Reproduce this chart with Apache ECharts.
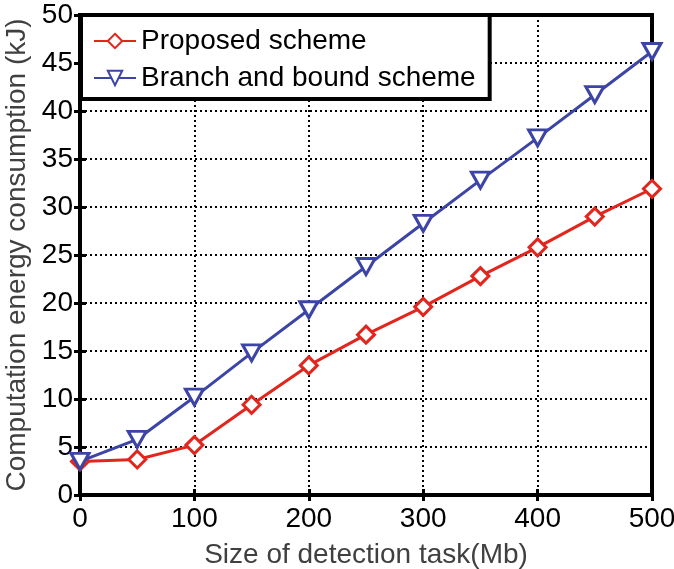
<!DOCTYPE html>
<html><head><meta charset="utf-8">
<script src="https://cdn.jsdelivr.net/npm/echarts@6/dist/echarts.min.js"></script>
<style>html,body{margin:0;padding:0;background:#fff}#c{width:674px;height:569px}</style>
</head><body><div id="c"></div>
<script>
const taskSize = [0, 50, 100, 150, 200, 250, 300, 350, 400, 450, 500];
const proposed = [3.5, 3.7, 5.2, 9.4, 13.5, 16.7, 19.6, 22.8, 25.8, 29.0, 31.9];
const branchBound = [3.5, 5.8, 10.2, 14.8, 19.3, 23.8, 28.3, 32.8, 37.2, 41.7, 46.2];
const seriesNames = ['Proposed scheme', 'Branch and bound scheme'];
const xTitle = 'Size of detection task(Mb)';
const yTitle = 'Computation energy consumption (kJ)';

const font = 'Liberation Sans, Arial, Helvetica, sans-serif';
const chart = echarts.init(document.getElementById('c'));
const pairs = a => taskSize.map((x, i) => [x, a[i]]);
const grid = {type: [2, 3], width: 2, color: '#000'};
const tick = {inside: true, length: 6, lineStyle: {width: 3, color: '#000'}};
chart.setOption({
  animation: false,
  grid: {left: 80, right: 22, top: 15, bottom: 74, show: true, borderColor: '#000', borderWidth: 4,
         backgroundColor: '#fff', containLabel: false, outerBoundsMode: 'none'},
  legend: {
    left: 81, top: 15, orient: 'vertical', padding: [12, 14, 7, 12], itemGap: 9,
    itemWidth: 42, itemHeight: 18,
    borderColor: '#000', borderWidth: 4, backgroundColor: '#fff',
    textStyle: {fontFamily: font, fontSize: 28, color: '#000'},
    data: seriesNames
  },
  xAxis: [{
    type: 'value', min: 0, max: 500, interval: 100,
    name: xTitle, nameLocation: 'middle', nameGap: 46,
    nameTextStyle: {fontFamily: font, fontSize: 28, color: '#404040'},
    axisLine: {show: false}, axisTick: tick,
    axisLabel: {fontFamily: font, fontSize: 28, color: '#000', margin: 10},
    splitLine: {show: true, lineStyle: grid}
  }, {
    type: 'value', min: 0, max: 500, interval: 100, position: 'top',
    axisLine: {show: false}, axisLabel: {show: false}, splitLine: {show: false}, axisTick: tick
  }],
  yAxis: [{
    type: 'value', min: 0, max: 50, interval: 5,
    name: yTitle, nameLocation: 'middle', nameGap: 40,
    nameTextStyle: {fontFamily: font, fontSize: 28, color: '#404040'},
    axisLine: {show: false}, axisTick: tick,
    axisLabel: {fontFamily: font, fontSize: 28, color: '#000', margin: 7},
    splitLine: {show: true, lineStyle: grid}
  }, {
    type: 'value', min: 0, max: 50, interval: 5, position: 'right',
    axisLine: {show: false}, axisLabel: {show: false}, splitLine: {show: false}, axisTick: tick
  }],
  series: [{
    name: seriesNames[0], type: 'line', data: pairs(proposed),
    symbol: 'diamond', symbolSize: 17, showAllSymbol: true,
    lineStyle: {color: '#e2261d', width: 3},
    itemStyle: {color: '#fff', borderColor: '#e2261d', borderWidth: 3},
    z: 3
  }, {
    name: seriesNames[1], type: 'line', data: pairs(branchBound),
    symbol: 'path://M0,0 L10,0 L5,9 Z', symbolSize: [18, 16], showAllSymbol: true,
    lineStyle: {color: '#3c45a5', width: 3},
    itemStyle: {color: '#fff', borderColor: '#3c45a5', borderWidth: 3},
    z: 4
  }]
});
</script></body></html>
